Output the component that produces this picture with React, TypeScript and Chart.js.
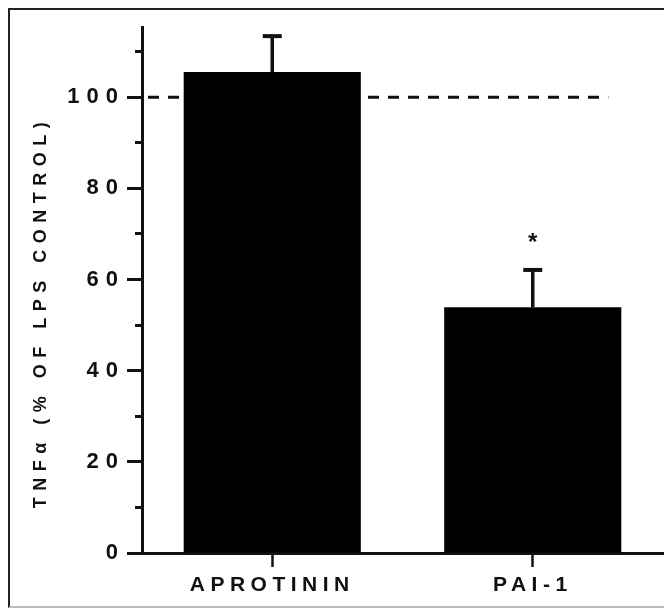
import React, { useEffect, useRef } from 'react';
import { Chart, registerables } from 'chart.js';

Chart.register(...registerables);

// ---- data ----
const CATEGORIES = ['APROTININ', 'PAI-1'];
const TNF_MEAN = [105.5, 53.9];
const TNF_SEM = [7.9, 8.2];
const SIGNIFICANCE = ['', '*'];
const REFERENCE_LEVEL = 100;
const REFERENCE_END = 1.29; // category units where the dashed line stops
const Y_MIN = 0;
const Y_MAX = 115.4;
const Y_MINOR_STEP = 10;
const Y_MAJOR_STEP = 20;
const Y_TITLE = 'TNFα (% OF LPS CONTROL)';

const FONT = '"Liberation Sans", Arial, Helvetica, sans-serif';
const INK = '#111';

const spacingPlugin = {
  id: 'letterSpacing',
  beforeDraw(chart: any) {
    const patch = (scale: any, labelSp: string, titleSp: string, titleDy: number) => {
      if (!scale || scale.__patched) return;
      scale.__patched = true;
      const dl = scale.drawLabels.bind(scale);
      const dt = scale.drawTitle.bind(scale);
      scale.drawLabels = (area: any) => {
        const c = scale.ctx;
        c.save();
        c.letterSpacing = labelSp;
        dl(area);
        c.restore();
      };
      scale.drawTitle = () => {
        const c = scale.ctx;
        c.save();
        c.translate(0, titleDy);
        c.letterSpacing = titleSp;
        dt();
        c.restore();
      };
    };
    patch(chart.scales.x, '5.5px', '0px', 0);
    patch(chart.scales.y, '7px', '6.5px', 22);
  },
};

const referencePlugin = {
  id: 'referenceLine',
  beforeDatasetsDraw(chart: any) {
    const { ctx, chartArea, scales } = chart;
    const yp = scales.y.getPixelForValue(REFERENCE_LEVEL);
    const xe = scales.x.getPixelForValue(REFERENCE_END);
    ctx.save();
    ctx.strokeStyle = INK;
    ctx.lineWidth = 3;
    ctx.setLineDash([11, 9]);
    ctx.lineDashOffset = -6;
    ctx.beginPath();
    ctx.moveTo(chartArea.left, yp);
    ctx.lineTo(xe, yp);
    ctx.stroke();
    ctx.restore();
  },
};

const errorPlugin = {
  id: 'errorBars',
  afterDatasetsDraw(chart: any) {
    const { ctx, scales } = chart;
    const meta = chart.getDatasetMeta(0);
    ctx.save();
    ctx.strokeStyle = INK;
    ctx.fillStyle = INK;
    meta.data.forEach((bar: any, i: number) => {
      const top = scales.y.getPixelForValue(TNF_MEAN[i] + TNF_SEM[i]);
      ctx.lineWidth = 3.5;
      ctx.beginPath();
      ctx.moveTo(bar.x, bar.y);
      ctx.lineTo(bar.x, top);
      ctx.stroke();
      ctx.lineWidth = 4;
      ctx.beginPath();
      ctx.moveTo(bar.x - 9.5, top);
      ctx.lineTo(bar.x + 9.5, top);
      ctx.stroke();
      if (SIGNIFICANCE[i]) {
        ctx.font = `bold 24px ${FONT}`;
        ctx.textAlign = 'center';
        ctx.textBaseline = 'alphabetic';
        ctx.fillText(SIGNIFICANCE[i], bar.x, top - 20);
      }
    });
    ctx.restore();
  },
};

export default function App() {
  const ref = useRef<HTMLCanvasElement>(null);

  useEffect(() => {
    if (!ref.current) return;
    const chart = new Chart(ref.current, {
      type: 'bar',
      data: {
        labels: CATEGORIES,
        datasets: [
          {
            data: TNF_MEAN,
            backgroundColor: '#000',
            borderWidth: 0,
            barPercentage: 0.68,
            categoryPercentage: 1,
          },
        ],
      },
      options: {
        responsive: false,
        animation: false,
        layout: { padding: { top: 17, right: 1, left: 0, bottom: 0 } },
        plugins: { legend: { display: false }, tooltip: { enabled: false } },
        scales: {
          x: {
            type: 'category',
            offset: true,
            grid: {
              display: true,
              drawOnChartArea: false,
              drawTicks: true,
              tickLength: 14,
              tickWidth: 2.5,
              tickColor: INK,
              offset: false,
            },
            border: { display: true, color: INK, width: 3 },
            ticks: {
              color: INK,
              font: { family: FONT, size: 21, weight: 'bold' },
              padding: 6,
              maxRotation: 0,
              autoSkip: false,
            },
            afterFit: (s: any) => {
              s.height = 53;
            },
          },
          y: {
            min: Y_MIN,
            max: Y_MAX,
            grid: {
              drawOnChartArea: false,
              drawTicks: true,
              tickLength: 15,
              tickWidth: 3,
              tickColor: INK,
              tickBorderDash: (c: any) =>
                c.tick && c.tick.value % Y_MAJOR_STEP !== 0 ? [0, 8, 7] : [],
            },
            border: { display: true, color: INK, width: 3 },
            ticks: {
              stepSize: Y_MINOR_STEP,
              includeBounds: false,
              autoSkip: false,
              color: INK,
              padding: 2,
              font: { family: FONT, size: 22, weight: 'bold' },
              callback: (v: any) => (Number(v) % Y_MAJOR_STEP === 0 ? String(v) : ''),
            },
            title: {
              display: true,
              text: Y_TITLE,
              color: INK,
              font: { family: FONT, size: 18, weight: 'bold', lineHeight: 1.2 },
              padding: { top: 20.2, bottom: 0 },
            },
            afterFit: (s: any) => {
              s.width = 132;
            },
          },
        },
      },
      plugins: [spacingPlugin, referencePlugin, errorPlugin],
    } as any);
    return () => chart.destroy();
  }, []);

  return (
    <div
      style={{
        position: 'absolute',
        left: 8,
        top: 8,
        width: 656,
        height: 596,
        borderLeft: '2px solid #222',
        borderTop: '2px solid #222',
        borderBottom: '2px solid #bbb',
        background: '#fff',
      }}
    >
      <canvas ref={ref} width={654} height={596} style={{ display: 'block' }} />
    </div>
  );
}
